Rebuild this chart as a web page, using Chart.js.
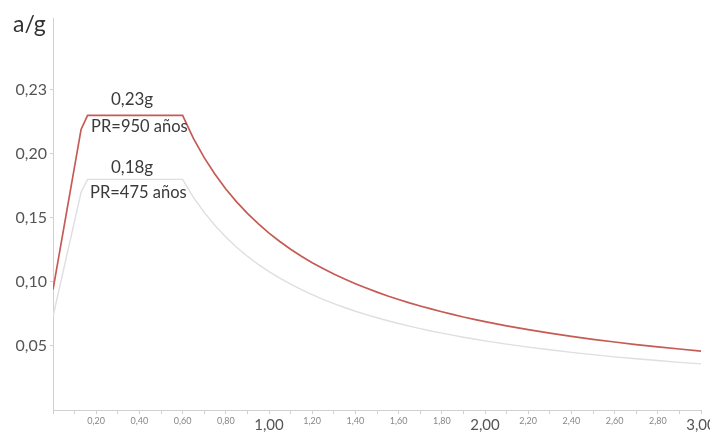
<!DOCTYPE html>
<html>
<head>
<meta charset="utf-8">
<script src="https://cdn.jsdelivr.net/npm/chart.js@4.4.0/dist/chart.umd.min.js"></script>
<style>
  html, body { margin: 0; padding: 0; background: #fff; overflow: hidden; }
  #wrap { width: 710px; height: 432px; }
</style>
</head>
<body>
<div id="wrap"><canvas id="spectrum"></canvas></div>
<script>
// Periods (s) and spectral accelerations (a/g)
const periods = [0, 0.13, 0.16, 0.60, 0.65, 0.70, 0.75, 0.80, 0.85, 0.90, 0.95, 1.00,
    1.05, 1.10, 1.15, 1.20, 1.25, 1.30, 1.35, 1.40, 1.45, 1.50,
    1.55, 1.60, 1.65, 1.70, 1.75, 1.80, 1.85, 1.90, 1.95, 2.00,
    2.10, 2.20, 2.30, 2.40, 2.50, 2.60, 2.70, 2.80, 2.90, 3.00];
const pr950 = [0.094, 0.219, 0.230, 0.230, 0.212, 0.197, 0.184, 0.1725, 0.1625, 0.1535, 0.1455, 0.138,
    0.1315, 0.1255, 0.120, 0.115, 0.1105, 0.1062, 0.1022, 0.0986, 0.0952, 0.092,
    0.089, 0.0863, 0.0836, 0.0812, 0.0789, 0.0767, 0.0746, 0.0726, 0.0708, 0.069,
    0.0657, 0.0627, 0.060, 0.0575, 0.0552, 0.0531, 0.0511, 0.0493, 0.0476, 0.046];
const pr475 = [0.073, 0.170, 0.180, 0.180, 0.166, 0.1543, 0.144, 0.135, 0.127, 0.120, 0.1137, 0.108,
    0.1029, 0.0982, 0.0939, 0.090, 0.0864, 0.0831, 0.080, 0.0771, 0.0745, 0.072,
    0.0697, 0.0675, 0.0655, 0.0635, 0.0617, 0.060, 0.0584, 0.0568, 0.0554, 0.054,
    0.0514, 0.0491, 0.047, 0.045, 0.0432, 0.0415, 0.040, 0.0386, 0.0372, 0.036];

// Y ticks and the labels printed next to them (the top one reads 0,23 in the original)
const yTickValues = [0.05, 0.10, 0.15, 0.20, 0.25];
const yTickLabels = ['0,05', '0,10', '0,15', '0,20', '0,23'];

const FONT = 'Lato, "Open Sans", sans-serif';

// whole seconds get the big labels on the x axis
function isWhole(c) {
    if (!c || !c.tick) return false;
    return Math.round(c.tick.value * 10) % 10 === 0;
}

// Text notes on the curves, placed in data coordinates
const notesPlugin = {
    id: 'notes',
    afterDatasetsDraw(chart) {
        const { ctx, scales: { x, y } } = chart;
        const notes = [
            { text: '0,23g', t: 0.366, a: 0.242 },
            { text: 'PR=950 años', t: 0.400, a: 0.221 },
            { text: '0,18g', t: 0.366, a: 0.189 },
            { text: 'PR=475 años', t: 0.395, a: 0.170 }
        ];
        ctx.save();
        ctx.fillStyle = '#3a3a3a';
        ctx.textAlign = 'center';
        ctx.textBaseline = 'middle';
        notes.forEach((n, i) => {
            ctx.font = (i % 2 === 0 ? '17px ' : '16.5px ') + FONT;
            ctx.fillText(n.text, x.getPixelForValue(n.t), y.getPixelForValue(n.a));
        });

        // axis name at the top left
        ctx.font = '23px ' + FONT;
        ctx.fillStyle = '#333';
        ctx.textAlign = 'left';
        ctx.fillText('a/g', 13, 25);
        ctx.restore();
    }
};

new Chart(document.getElementById('spectrum').getContext('2d'), {
    type: 'line',
    data: {
        datasets: [{
            label: 'PR=950 años',
            data: periods.map((t, i) => ({ x: t, y: pr950[i] })),
            borderColor: '#c65a55',
            borderWidth: 1.7,
            pointRadius: 0,
            tension: 0
        }, {
            label: 'PR=475 años',
            data: periods.map((t, i) => ({ x: t, y: pr475[i] })),
            borderColor: '#dedee3',
            borderWidth: 1.4,
            pointRadius: 0,
            tension: 0
        }]
    },
    options: {
        responsive: true,
        maintainAspectRatio: false,
        animation: false,
        layout: { padding: { top: 18, right: 9 } },
        plugins: {
            legend: { display: false },
            tooltip: { enabled: false }
        },
        scales: {
            x: {
                type: 'linear',
                min: 0,
                max: 3,
                grid: { drawOnChartArea: false, color: '#d0d0d0', tickLength: 4 },
                border: { color: '#d0d0d0' },
                ticks: {
                    stepSize: 0.1,
                    autoSkip: false,
                    maxRotation: 0,
                    padding: 2,
                    color: (c) => isWhole(c) ? '#555' : '#888',
                    font: (c) => isWhole(c) ? { family: FONT, size: 15 } : { family: FONT, size: 9 },
                    callback: (value) => {
                        const tenth = Math.round(value * 10);
                        if (tenth === 0 || tenth % 2 !== 0) return '';
                        return (tenth / 10).toFixed(2).replace('.', ',');
                    }
                },
                afterFit: (s) => { s.height = 22; s.paddingRight = 0; s.paddingLeft = 0; }
            },
            y: {
                min: 0,
                max: 0.306,
                grid: { drawOnChartArea: false, color: '#d0d0d0', tickLength: 3 },
                border: { color: '#d0d0d0' },
                afterBuildTicks: (s) => { s.ticks = yTickValues.map(v => ({ value: v })); },
                ticks: {
                    color: '#555',
                    padding: 3,
                    font: { family: FONT, size: 16 },
                    callback: (value) => {
                        const i = yTickValues.findIndex(v => Math.abs(v - value) < 1e-6);
                        return i >= 0 ? yTickLabels[i] : '';
                    }
                },
                afterFit: (s) => { s.width = 53; }
            }
        }
    },
    plugins: [notesPlugin]
});
</script>
</body>
</html>
